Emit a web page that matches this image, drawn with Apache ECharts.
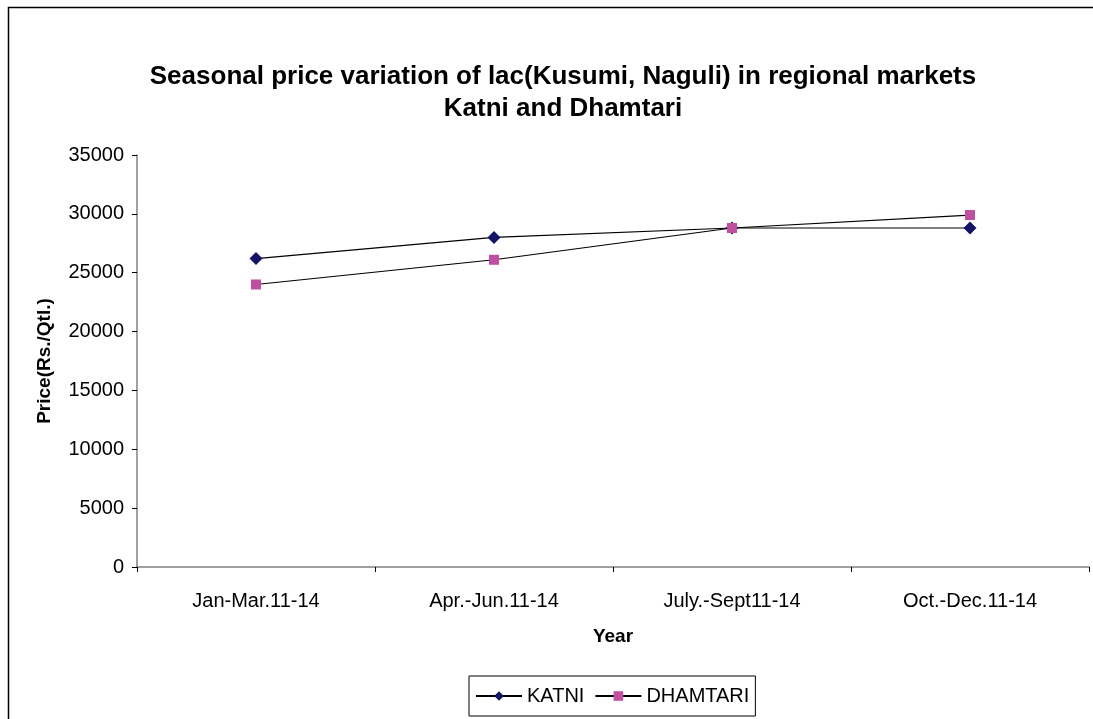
<!DOCTYPE html>
<html>
<head>
<meta charset="utf-8">
<script src="https://cdn.jsdelivr.net/npm/echarts@6/dist/echarts.min.js"></script>
<style>
  html, body { margin: 0; padding: 0; background: #fff; }
  #chart { width: 1093px; height: 719px; }
</style>
</head>
<body>
<div id="chart"></div>
<script>
const categories = ['Jan-Mar.11-14', 'Apr.-Jun.11-14', 'July.-Sept11-14', 'Oct.-Dec.11-14']
const katni = [26200, 28000, 28800, 28800]
const dhamtari = [24000, 26100, 28800, 29900]
const yTicks = [0, 5000, 10000, 15000, 20000, 25000, 30000, 35000]

const chart = echarts.init(document.getElementById('chart'))
const font = 'Liberation Sans, Arial, sans-serif'

const option = {
  animation: false,
  textStyle: { fontFamily: font, color: '#000' },
  title: {
    text: 'Seasonal price variation of lac(Kusumi, Naguli) in regional markets\nKatni and Dhamtari',
    left: 558,
    top: 56,
    textAlign: 'center',
    textStyle: { fontSize: 26, fontWeight: 'bold', lineHeight: 32, color: '#000', fontFamily: font }
  },
  graphic: [{
    type: 'rect',
    shape: { x: 8.5, y: 7.5, width: 1200, height: 800 },
    style: { fill: 'none', stroke: '#000', lineWidth: 1.5 },
    silent: true
  }],
  legend: {
    data: ['KATNI', 'DHAMTARI'],
    bottom: 3,
    left: 469,
    itemWidth: 46,
    itemHeight: 12,
    itemGap: 10,
    padding: [10, 6, 10, 6],
    borderColor: '#000',
    borderWidth: 1,
    textStyle: { fontSize: 20, color: '#000', fontFamily: font }
  },
  grid: {
    left: 137,
    right: 4,
    top: 155,
    bottom: 152
  },
  xAxis: {
    type: 'category',
    data: categories,
    boundaryGap: true,
    name: 'Year',
    nameLocation: 'middle',
    nameGap: 60,
    nameTextStyle: { fontSize: 19, fontWeight: 'bold', color: '#000' },
    axisLine: { lineStyle: { color: '#808080', width: 1.5 } },
    axisTick: { show: true, alignWithLabel: false, length: 5, lineStyle: { color: '#000' } },
    axisLabel: { fontSize: 20, color: '#000', margin: 24, interval: 0 }
  },
  yAxis: {
    type: 'value',
    min: 0,
    max: yTicks[yTicks.length - 1],
    interval: yTicks[1] - yTicks[0],
    name: 'Price(Rs./Qtl.)',
    nameLocation: 'middle',
    nameGap: 83,
    nameTextStyle: { fontSize: 19, fontWeight: 'bold', color: '#000' },
    axisLine: { show: true, lineStyle: { color: '#808080', width: 1.5 } },
    axisTick: { show: true, length: 5, lineStyle: { color: '#000' } },
    axisLabel: { fontSize: 20, color: '#000', margin: 13, formatter: v => String(v) },
    splitLine: { show: false }
  },
  series: [
    {
      name: 'KATNI',
      type: 'line',
      data: katni,
      symbol: 'diamond',
      symbolSize: 13,
      itemStyle: { color: '#141466' },
      lineStyle: { color: '#000', width: 1.2 }
    },
    {
      name: 'DHAMTARI',
      type: 'line',
      data: dhamtari,
      symbol: 'rect',
      symbolSize: 10,
      itemStyle: { color: '#C04FA0' },
      lineStyle: { color: '#000', width: 1.2 }
    }
  ]
}

chart.setOption(option)
</script>
</body>
</html>
